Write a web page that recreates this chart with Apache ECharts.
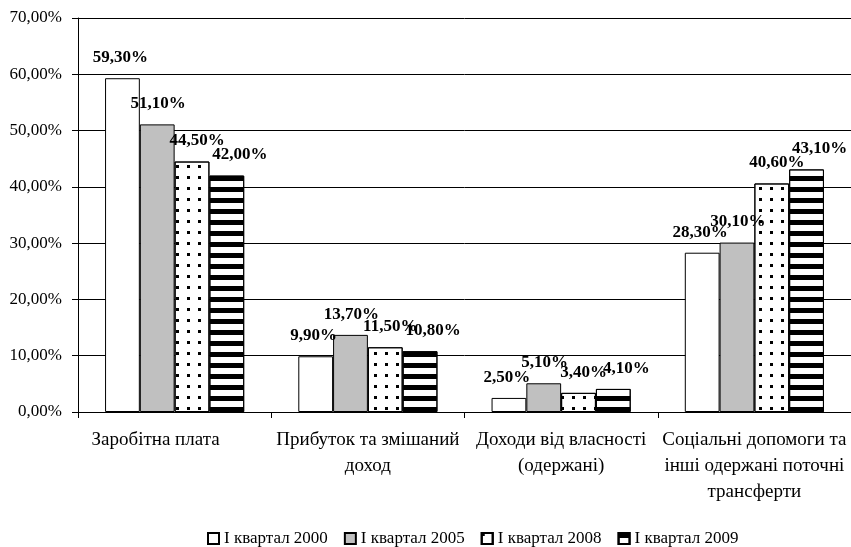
<!DOCTYPE html>
<html>
<head>
<meta charset="utf-8">
<script src="https://cdn.jsdelivr.net/npm/echarts@6/dist/echarts.min.js"></script>
<style>
  html, body { margin: 0; padding: 0; background: #fff; }
  #main { width: 851px; height: 547px; }
</style>
</head>
<body>
<div id="main"></div>
<script>
const categories = [
  "Заробітна плата",
  "Прибуток та змішаний\nдоход",
  "Доходи від власності\n(одержані)",
  "Соціальні допомоги та\nінші одержані поточні\nтрансферти"
];
const seriesNames = ["I квартал 2000", "I квартал 2005", "I квартал 2008", "I квартал 2009"];
const q2000 = [59.3, 9.9, 2.5, 28.3];
const q2005 = [51.1, 13.7, 5.1, 30.1];
const q2008 = [44.5, 11.5, 3.4, 40.6];
const q2009 = [42.0, 10.8, 4.1, 43.1];
const yTicks = [0, 10, 20, 30, 40, 50, 60, 70];

const FONT = '"Liberation Serif", "DejaVu Serif", serif';
const pct = v => Number(v).toFixed(2).replace(".", ",") + "%";

const dots = {
  symbol: "rect",
  symbolSize: 1,
  color: "#000",
  dashArrayX: [3, 8],
  dashArrayY: [3, 8]
};
const stripes = {
  symbol: "rect",
  symbolSize: 1,
  color: "#000",
  dashArrayX: [1, 0],
  dashArrayY: [5, 6]
};

const styles = [
  { color: "#ffffff" },
  { color: "#c0c0c0" },
  { color: "#ffffff", decal: dots },
  { color: "#ffffff", decal: stripes }
];
const labelShift = [-2, 1, 5, 13];

function makeSeries(name, values, i) {
  return {
    name: name,
    type: "bar",
    data: values,
    barGap: "0%",
    barCategoryGap: "28%",
    itemStyle: Object.assign({ borderColor: "#000", borderWidth: 1 }, styles[i]),
    label: {
      show: true,
      position: "top",
      distance: 12,
      offset: [labelShift[i], 0],
      fontFamily: FONT,
      fontSize: 17,
      fontWeight: "bold",
      color: "#000",
      formatter: p => pct(p.value)
    }
  };
}

const options = {
  animation: false,
  backgroundColor: "#fff",
  grid: { left: 78, top: 18, right: -3, bottom: 135 },
  legend: {
    bottom: -5,
    left: 202,
    itemWidth: 11,
    itemHeight: 11,
    itemGap: 16,
    icon: "rect",
    textStyle: { fontFamily: FONT, fontSize: 17, color: "#000" },
    data: seriesNames
  },
  xAxis: {
    type: "category",
    data: categories,
    axisLine: { lineStyle: { color: "#000", width: 1 } },
    axisTick: { show: true, length: 6, lineStyle: { color: "#000" } },
    axisLabel: {
      interval: 0,
      margin: 15,
      fontFamily: FONT,
      fontSize: 19,
      lineHeight: 26,
      color: "#000",
      // first label sits a bit left of its category in the original
      formatter: (v, i) => i === 0 ? "{a|" + v + "}" : v,
      rich: {
        a: { fontFamily: FONT, fontSize: 19, color: "#000", padding: [0, 38, 0, 0] }
      }
    }
  },
  yAxis: {
    type: "value",
    min: yTicks[0],
    max: yTicks[yTicks.length - 1],
    interval: 10,
    axisLine: { show: true, lineStyle: { color: "#000", width: 1 } },
    axisTick: { show: true, length: 6, lineStyle: { color: "#000" } },
    splitLine: { lineStyle: { color: "#000", width: 1 } },
    axisLabel: {
      margin: 16,
      fontFamily: FONT,
      fontSize: 17,
      color: "#000",
      formatter: v => pct(v)
    }
  },
  series: [
    makeSeries(seriesNames[0], q2000, 0),
    makeSeries(seriesNames[1], q2005, 1),
    makeSeries(seriesNames[2], q2008, 2),
    makeSeries(seriesNames[3], q2009, 3)
  ]
};

var myChart = echarts.init(document.getElementById("main"));
myChart.setOption(options);
</script>
</body>
</html>
